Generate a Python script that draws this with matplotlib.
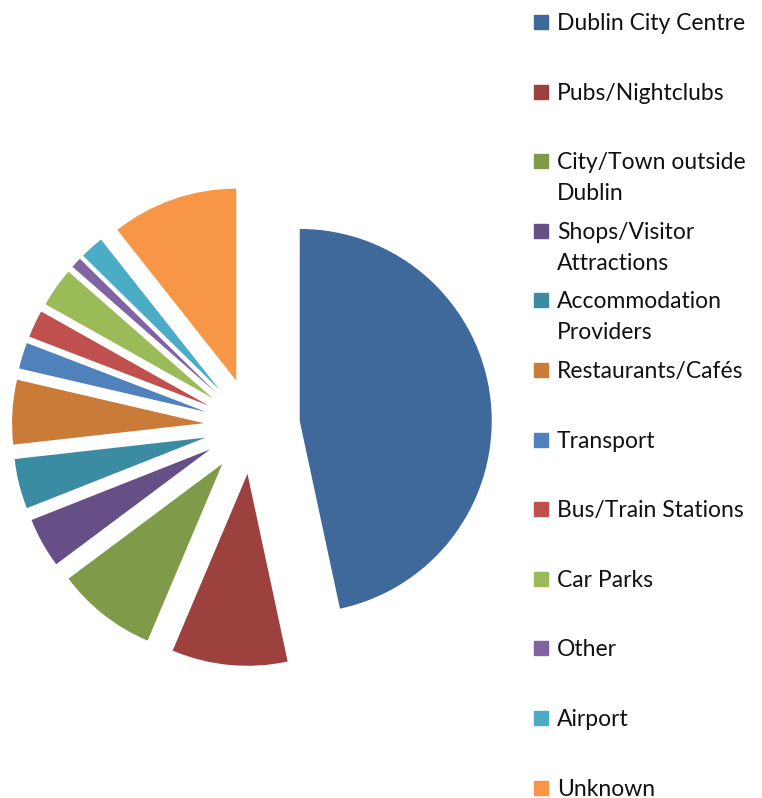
import matplotlib.pyplot as plt
from matplotlib.patches import Rectangle

plt.rcParams['font.family'] = ['Lato', 'DejaVu Sans']

# data (percent)
labels = ['Dublin City Centre', 'Pubs/Nightclubs', 'City/Town outside\nDublin',
          'Shops/Visitor\nAttractions', 'Accommodation\nProviders', 'Restaurants/Cafés',
          'Transport', 'Bus/Train Stations', 'Car Parks', 'Other', 'Airport', 'Unknown']
values = [46.5, 9.7, 8.4, 4.2, 4.2, 5.4, 2.2, 2.3, 3.3, 0.9, 2.0, 10.6]
colors = ['#3F689B', '#9C413E', '#7F9A48', '#664F86', '#3B8CA2', '#CB7B38',
          '#4F81BD', '#C0504D', '#9BBB59', '#8064A2', '#4BACC6', '#F79646']

W, H = 762, 798
cx, cy, r = 252, 426, 192

fig = plt.figure(figsize=(W / 100, H / 100), dpi=100)
ax = fig.add_axes([0, 0, 1, 1])
ax.pie(values, colors=colors, startangle=90, counterclock=False,
       explode=[0.25] * len(values), radius=1,
       wedgeprops=dict(linewidth=0))
ax.set_xlim(-cx / r, (W - cx) / r)
ax.set_ylim(-(H - cy) / r, cy / r)
ax.set_aspect('auto')
ax.axis('off')

# legend, evenly spaced like the original (pixel positions from top)
for i, (lab, col) in enumerate(zip(labels, colors)):
    top = 15 + 69.6 * i
    fig.patches.append(Rectangle((534 / W, 1 - (top + 14) / H), 14 / W, 14 / H,
                                 transform=fig.transFigure, color=col))
    for j, line in enumerate(lab.split('\n')):
        base = top + 15 + 31 * j
        fig.text(557 / W, 1 - base / H, line, fontsize=16.5, va='baseline',
                 ha='left', color='#111111')

fig.savefig('out.png', dpi=100)
